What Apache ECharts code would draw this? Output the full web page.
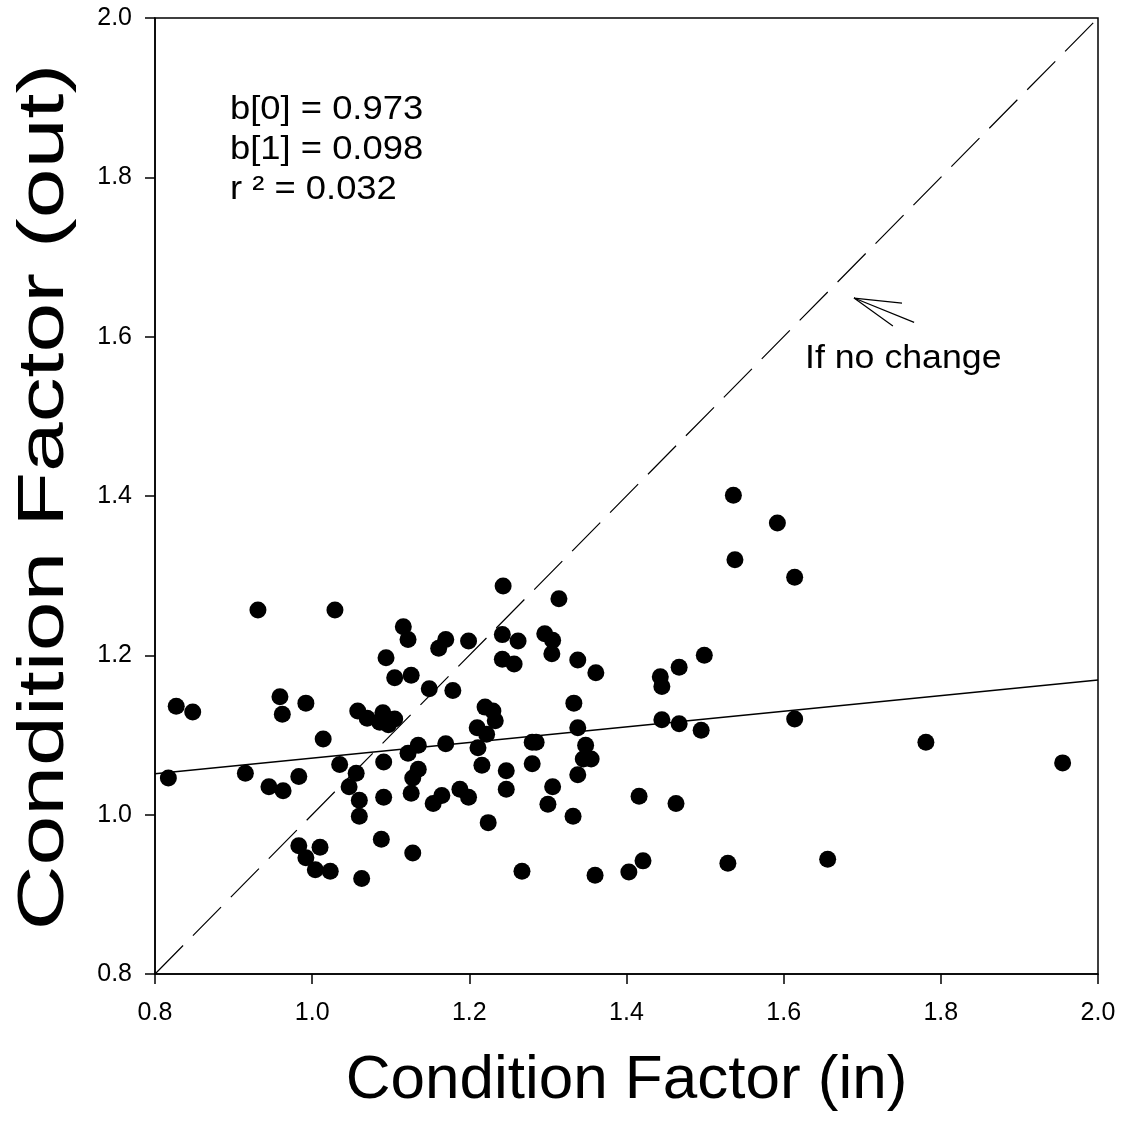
<!DOCTYPE html>
<html>
<head>
<meta charset="utf-8">
<script src="https://cdn.jsdelivr.net/npm/echarts@6/dist/echarts.min.js"></script>
<style>html,body{margin:0;padding:0;background:#fff}#c{width:1123px;height:1121px}</style>
</head>
<body>
<div id="c"></div>
<script>
var xTicks = ['0.8','1.0','1.2','1.4','1.6','1.8','2.0'];
var yTicks = ['0.8','1.0','1.2','1.4','1.6','1.8','2.0'];
var xIn = [0.817,0.827,0.848,0.915,0.931,0.945,0.959,0.962,0.963,0.983,0.983,0.992,0.992,1.004,1.010,1.014,1.023,1.029,1.035,1.047,
  1.056,1.058,1.060,1.060,1.063,1.070,1.086,1.088,1.090,1.091,1.091,1.094,1.097,1.105,1.105,1.116,1.122,1.122,1.126,1.126,
  1.128,1.128,1.135,1.135,1.149,1.154,1.161,1.165,1.170,1.170,1.179,1.188,1.199,1.199,1.210,1.211,1.216,1.220,1.222,1.224,
  1.230,1.233,1.242,1.242,1.243,1.247,1.247,1.257,1.262,1.267,1.280,1.285,1.280,1.296,1.300,1.305,1.306,1.306,1.314,1.332,
  1.333,1.338,1.338,1.338,1.345,1.348,1.355,1.360,1.361,1.403,1.416,1.421,1.443,1.445,1.445,1.463,1.467,1.467,1.495,1.499,
  1.529,1.536,1.538,1.592,1.614,1.614,1.656,1.781,1.955];
var yOut = [1.046,1.136,1.129,1.052,1.257,1.035,1.148,1.126,1.030,1.048,0.961,1.140,0.946,0.931,0.959,1.095,0.929,1.257,1.063,1.035,
  1.052,1.130,1.018,0.998,0.920,1.121,1.116,0.969,1.128,1.066,1.022,1.197,1.113,1.120,1.172,1.236,1.220,1.077,1.175,1.027,
  1.046,0.952,1.087,1.057,1.158,1.014,1.209,1.024,1.220,1.089,1.156,1.032,1.218,1.022,1.109,1.084,1.062,1.135,1.101,0.990,
  1.130,1.118,1.226,1.195,1.287,1.055,1.032,1.189,1.218,0.929,1.091,1.091,1.064,1.227,1.013,1.202,1.219,1.035,1.271,0.998,
  1.140,1.194,1.109,1.050,1.070,1.087,1.070,0.924,1.178,0.928,1.023,0.942,1.173,1.161,1.119,1.014,1.185,1.114,1.106,1.200,
  0.939,1.401,1.320,1.366,1.298,1.120,0.944,1.091,1.065];
var fitCoef = [0.973, 0.098];       // b[0], b[1]
var fitX = [0.8, 2.0];
var identityLine = [[0.8,0.8],[2.0,2.0]];
var arrowHead = [[1.7506,1.6422],[1.6895,1.6485],[1.739,1.6134]];
var arrowShaft = [[1.6895,1.6485],[1.766,1.618]];
var statLines = ['b[0] = 0.973','b[1] = 0.098','r \u00b2 = 0.032'];

var pts = xIn.map(function(x,i){return [x,yOut[i]];});
var fitPts = fitX.map(function(x){return [x, fitCoef[0]+fitCoef[1]*x];});
var FF = '"Liberation Sans", Arial, sans-serif';

var chart = echarts.init(document.getElementById('c'));
var axisCommon = {
  type:'value', min:0.8, max:2.0, interval:0.2,
  axisLine:{show:true,onZero:false,lineStyle:{color:'#000',width:1.5}},
  axisTick:{show:true,inside:false,length:10,lineStyle:{color:'#000',width:1.5}},
  splitLine:{show:false},
  axisLabel:{color:'#000',fontFamily:FF,fontSize:25,formatter:function(v){return v.toFixed(1);}}
};
var opt = {
  animation:false,
  backgroundColor:'#fff',
  grid:{left:155,right:25,top:18,bottom:147,show:true,borderColor:'#000',borderWidth:1.5,containLabel:false},
  xAxis:Object.assign({},axisCommon,{
    axisLabel:Object.assign({},axisCommon.axisLabel,{margin:27}),
    name:'Condition Factor (in)', nameLocation:'middle', nameGap:76,
    nameTextStyle:{color:'#000',fontFamily:FF,fontSize:62}
  }),
  yAxis:Object.assign({},axisCommon,{
    axisLabel:Object.assign({},axisCommon.axisLabel,{margin:23})
  }),
  graphic:[
    {type:'text',x:45,y:497,rotation:Math.PI/2,scaleX:1.40,
     style:{text:'Condition Factor (out)',fontFamily:FF,fontSize:64,fill:'#000',align:'center',verticalAlign:'middle'}},
    {type:'text',x:230,y:110,scaleX:1.07,style:{text:statLines[0],fontFamily:FF,fontSize:34,fill:'#000',align:'left',verticalAlign:'middle'}},
    {type:'text',x:230,y:150,scaleX:1.07,style:{text:statLines[1],fontFamily:FF,fontSize:34,fill:'#000',align:'left',verticalAlign:'middle'}},
    {type:'text',x:230,y:190,scaleX:1.07,style:{text:statLines[2],fontFamily:FF,fontSize:34,fill:'#000',align:'left',verticalAlign:'middle'}},
    {type:'text',x:805,y:359,scaleX:1.05,style:{text:'If no change',fontFamily:FF,fontSize:34,fill:'#000',align:'left',verticalAlign:'middle'}}
  ],
  series:[
    {type:'line',data:identityLine,showSymbol:false,symbol:'none',lineStyle:{color:'#000',width:1.2,type:[40,14]},z:2,silent:true},
    {type:'line',data:fitPts,showSymbol:false,symbol:'none',lineStyle:{color:'#000',width:1.5},z:2,silent:true},
    {type:'line',data:arrowHead,showSymbol:false,symbol:'none',lineStyle:{color:'#000',width:1.2},z:2,silent:true},
    {type:'line',data:arrowShaft,showSymbol:false,symbol:'none',lineStyle:{color:'#000',width:1.2},z:2,silent:true},
    {type:'scatter',data:pts,symbol:'circle',symbolSize:17,itemStyle:{color:'#000',opacity:1},z:3}
  ]
};
chart.setOption(opt);
</script>
</body>
</html>
